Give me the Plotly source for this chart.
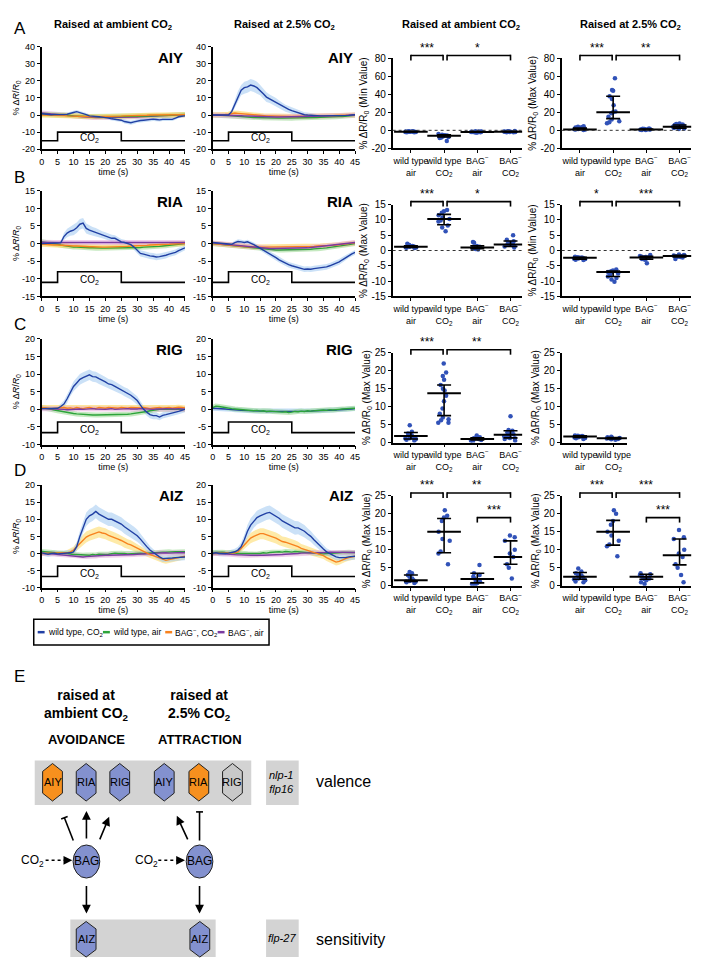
import numpy as np
import plotly.graph_objects as go

W, H = 705, 960
SANS = "Liberation Sans, Arial, sans-serif"
NARROW = "Liberation Sans Narrow, Arial Narrow, Liberation Sans, Arial, sans-serif"

T = list(range(46))
STIM_T = [0, 5, 5, 25, 25, 45]

# ---------------- calcium traces (mean, % dR/R0), 1 s steps ----------------
# A: AIY
aiy_amb_wt_co2 = [0.8, 0.5, 0.3, 0.2, 0.3, 0.2, 0.5, 0.3, 0.5, 1.2,
                  1.5, 2.0, 1.5, 1.2, 0.3, -0.5, -0.8, -1.0, -1.0, -1.2,
                  -1.3, -1.8, -2.2, -2.5, -2.7, -3.0, -3.8, -4.3, -4.5, -4.0,
                  -3.4, -3.2, -3.0, -2.8, -2.5, -2.4, -2.6, -2.8, -2.5, -2.6,
                  -2.7, -2.5, -1.8, -1.0, -0.7, -0.5]
aiy_amb_wt_co2_sem = [0.6, 0.6, 0.6, 0.6, 0.6, 0.6, 0.7, 0.7, 0.8, 0.9,
                      1.0, 1.0, 1.0, 0.9, 0.9, 0.9, 0.9, 0.9, 0.9, 0.9,
                      1.0, 1.0, 1.0, 1.0, 1.1, 1.1, 1.2, 1.2, 1.2, 1.2,
                      1.1, 1.1, 1.0, 1.0, 1.0, 1.0, 1.0, 1.0, 1.0, 1.0,
                      0.9, 0.9, 0.9, 0.8, 0.8, 0.8]
aiy_amb_wt_air = [0.5, 0.3, 0.2, 0.0, 0.0, 0.0, 0.0, 0.0, -0.2, -0.3,
                  -0.5, -0.5, -0.6, -0.7, -0.8, -0.8, -0.8, -0.9, -1.0, -1.0,
                  -1.0, -1.0, -1.0, -1.0, -1.0, -1.0, -1.0, -1.0, -0.9, -0.9,
                  -0.8, -0.8, -0.7, -0.6, -0.5, -0.5, -0.4, -0.3, -0.3, -0.2,
                  -0.2, 0.0, 0.1, 0.2, 0.3, 0.3]
aiy_amb_bag_co2 = [0.0, 0.0, 0.0, 0.0, -0.2, -0.3, -0.3, -0.3, -0.5, -0.5,
                   -0.5, -0.5, -0.6, -0.7, -0.8, -1.0, -1.0, -1.0, -1.0, -1.0,
                   -0.9, -0.9, -0.8, -0.8, -0.7, -0.6, -0.5, -0.5, -0.4, -0.3,
                   -0.3, -0.2, -0.2, -0.1, 0.0, 0.0, 0.0, 0.0, 0.0, 0.0,
                   0.0, 0.0, 0.0, 0.1, 0.1, 0.2]
aiy_amb_bag_air = [1.2, 1.0, 0.8, 0.5, 0.3, 0.2, 0.0, -0.2, -0.3, -0.5,
                   -0.6, -0.8, -0.9, -1.0, -1.2, -1.3, -1.4, -1.5, -1.5, -1.5,
                   -1.5, -1.5, -1.5, -1.5, -1.4, -1.4, -1.3, -1.3, -1.2, -1.2,
                   -1.1, -1.0, -1.0, -0.9, -0.8, -0.7, -0.6, -0.5, -0.4, -0.3,
                   -0.2, -0.1, 0.0, 0.0, 0.1, 0.2]

aiy_high_wt_co2 = [0.0, 0.0, 0.0, 0.0, 0.0, 0.0, 2.0, 6.5, 11.0, 14.5,
                   16.0, 16.5, 17.5, 17.0, 16.0, 14.5, 12.5, 10.5, 9.5, 8.5,
                   7.5, 6.2, 5.0, 4.0, 3.3, 2.6, 2.0, 1.2, 0.6, 0.2,
                   0.0, -0.2, -0.3, -0.4, -0.5, -0.5, -0.5, -0.6, -0.6, -0.5,
                   -0.5, -0.4, -0.3, -0.2, 0.0, 0.2]
aiy_high_wt_co2_sem = [0.5, 0.5, 0.5, 0.5, 0.5, 0.5, 1.5, 2.5, 3.0, 3.0,
                       3.5, 3.5, 3.5, 3.5, 3.5, 3.0, 3.0, 2.8, 2.5, 2.5,
                       2.5, 2.3, 2.2, 2.0, 2.0, 2.0, 1.8, 1.8, 1.5, 1.5,
                       1.5, 1.3, 1.2, 1.0, 1.0, 1.0, 1.0, 1.0, 1.0, 0.8,
                       0.8, 0.8, 0.8, 0.8, 0.8, 0.8]
aiy_high_wt_air = [0.0, 0.0, 0.0, 0.0, -0.2, -0.3, -0.5, -0.7, -0.8, -1.0,
                   -1.0, -1.2, -1.3, -1.4, -1.5, -1.5, -1.6, -1.7, -1.8, -1.8,
                   -1.8, -1.8, -1.8, -1.8, -1.8, -1.8, -1.7, -1.7, -1.6, -1.6,
                   -1.5, -1.5, -1.5, -1.4, -1.3, -1.3, -1.2, -1.2, -1.0, -1.0,
                   -0.9, -0.8, -0.6, -0.5, -0.3, -0.1]
aiy_high_bag_co2 = [0.0, 0.0, 0.0, 0.2, 0.3, 0.5, 1.0, 1.2, 1.0, 0.8,
                    0.5, 0.3, 0.2, 0.0, -0.2, -0.3, -0.4, -0.5, -0.5, -0.6,
                    -0.7, -0.7, -0.8, -0.8, -0.8, -0.8, -0.8, -0.8, -0.8, -0.7,
                    -0.7, -0.6, -0.6, -0.5, -0.5, -0.5, -0.5, -0.4, -0.4, -0.3,
                    -0.3, -0.2, -0.2, 0.0, 0.0, 0.0]
aiy_high_bag_air = [0.0, 0.0, 0.0, 0.0, 0.0, 0.0, -0.1, -0.2, -0.3, -0.4,
                    -0.5, -0.6, -0.7, -0.8, -0.9, -1.0, -1.0, -1.0, -1.1, -1.1,
                    -1.1, -1.1, -1.1, -1.1, -1.0, -1.0, -1.0, -1.0, -0.9, -0.9,
                    -0.8, -0.8, -0.7, -0.6, -0.6, -0.5, -0.5, -0.4, -0.4, -0.3,
                    -0.3, -0.2, -0.2, -0.1, 0.0, 0.1]

# B: RIA
ria_amb_wt_co2 = [0.0, 0.0, 0.0, 0.0, 0.0, 0.0, 0.2, 2.0, 3.0, 3.5,
                  3.8, 4.5, 5.5, 5.8, 4.3, 3.8, 3.5, 3.2, 2.8, 2.5,
                  2.2, 1.8, 1.5, 1.5, 1.0, 0.5, 0.3, 0.0, -0.3, -1.0,
                  -2.0, -2.8, -3.0, -3.3, -3.5, -3.6, -3.8, -3.7, -3.6, -3.3,
                  -3.0, -2.8, -2.5, -2.0, -1.7, -1.2]
ria_amb_wt_co2_sem = [0.3, 0.3, 0.3, 0.3, 0.3, 0.3, 0.5, 1.0, 1.2, 1.3,
                      1.4, 1.5, 1.5, 1.5, 1.4, 1.3, 1.2, 1.2, 1.1, 1.0,
                      1.0, 1.0, 1.0, 0.9, 0.9, 0.8, 0.8, 0.8, 0.8, 0.8,
                      0.9, 0.9, 0.9, 0.9, 0.9, 0.9, 0.9, 0.9, 0.9, 0.9,
                      0.8, 0.8, 0.8, 0.8, 0.7, 0.7]
ria_amb_wt_air = [0.5, 0.4, 0.3, 0.2, 0.0, -0.2, -0.4, -0.6, -0.8, -0.9,
                  -1.0, -1.0, -1.1, -1.1, -1.2, -1.2, -1.2, -1.3, -1.3, -1.3,
                  -1.3, -1.3, -1.3, -1.3, -1.3, -1.3, -1.3, -1.2, -1.2, -1.2,
                  -1.1, -1.1, -1.0, -1.0, -0.9, -0.9, -0.8, -0.8, -0.7, -0.6,
                  -0.5, -0.4, -0.3, -0.2, -0.1, 0.0]
ria_amb_bag_co2 = [-0.2, -0.3, -0.3, -0.3, -0.4, -0.4, -0.5, -0.5, -0.6, -0.6,
                   -0.7, -0.7, -0.8, -0.8, -0.8, -0.9, -0.9, -1.0, -1.0, -1.0,
                   -1.0, -1.0, -0.9, -0.9, -0.9, -0.8, -0.8, -0.8, -0.7, -0.7,
                   -0.6, -0.6, -0.5, -0.5, -0.4, -0.4, -0.3, -0.3, -0.3, -0.2,
                   -0.2, -0.1, -0.1, 0.0, 0.0, 0.0]
ria_amb_bag_air = [0.4, 0.3, 0.3, 0.3, 0.3, 0.3, 0.3, 0.3, 0.3, 0.3,
                   0.3, 0.3, 0.3, 0.3, 0.3, 0.3, 0.3, 0.3, 0.3, 0.3,
                   0.3, 0.3, 0.3, 0.3, 0.3, 0.3, 0.3, 0.3, 0.3, 0.3,
                   0.3, 0.3, 0.3, 0.3, 0.3, 0.3, 0.3, 0.3, 0.3, 0.3,
                   0.3, 0.3, 0.3, 0.3, 0.3, 0.3]

ria_high_wt_co2 = [0.3, 0.2, 0.0, 0.0, -0.2, -0.3, -0.2, 0.3, 0.6, 0.5,
                   0.3, 0.5, 0.2, -0.3, -0.8, -1.3, -1.8, -2.4, -3.0, -3.5,
                   -4.0, -4.6, -5.1, -5.6, -6.0, -6.3, -6.6, -6.9, -7.1, -7.3,
                   -7.2, -7.3, -7.1, -7.0, -6.9, -6.8, -6.6, -6.3, -6.0, -5.6,
                   -5.2, -4.6, -4.0, -3.4, -2.9, -2.5]
ria_high_wt_co2_sem = [0.4, 0.4, 0.4, 0.4, 0.4, 0.4, 0.5, 0.5, 0.6, 0.6,
                       0.6, 0.6, 0.6, 0.6, 0.6, 0.7, 0.7, 0.7, 0.7, 0.8,
                       0.8, 0.8, 0.8, 0.8, 0.8, 0.8, 0.8, 0.8, 0.8, 0.8,
                       0.8, 0.8, 0.8, 0.8, 0.8, 0.8, 0.8, 0.8, 0.8, 0.8,
                       0.8, 0.8, 0.7, 0.7, 0.7, 0.7]
ria_high_wt_air = [0.0, -0.1, -0.2, -0.3, -0.4, -0.5, -0.6, -0.7, -0.8, -0.9,
                   -1.0, -1.1, -1.2, -1.3, -1.4, -1.5, -1.5, -1.6, -1.7, -1.7,
                   -1.8, -1.8, -1.8, -1.8, -1.8, -1.8, -1.8, -1.8, -1.7, -1.7,
                   -1.6, -1.6, -1.5, -1.5, -1.4, -1.3, -1.2, -1.1, -1.0, -0.9,
                   -0.8, -0.6, -0.4, -0.3, -0.1, 0.0]
ria_high_bag_co2 = [0.0, -0.1, -0.2, -0.3, -0.4, -0.5, -0.5, -0.6, -0.7, -0.8,
                    -0.8, -0.9, -0.9, -1.0, -1.0, -1.0, -1.0, -1.0, -1.0, -1.0,
                    -1.0, -1.0, -1.0, -1.0, -1.0, -1.0, -1.0, -0.9, -0.9, -0.9,
                    -0.8, -0.8, -0.8, -0.7, -0.7, -0.6, -0.6, -0.5, -0.5, -0.4,
                    -0.3, -0.2, -0.1, 0.0, 0.1, 0.2]
ria_high_bag_air = [0.2, 0.1, 0.0, -0.1, -0.2, -0.3, -0.4, -0.5, -0.6, -0.7,
                    -0.8, -0.9, -1.0, -1.1, -1.2, -1.2, -1.3, -1.3, -1.4, -1.4,
                    -1.4, -1.4, -1.4, -1.4, -1.4, -1.4, -1.3, -1.3, -1.3, -1.2,
                    -1.2, -1.1, -1.0, -1.0, -0.9, -0.8, -0.7, -0.6, -0.5, -0.4,
                    -0.3, -0.2, -0.1, 0.0, 0.2, 0.3]

# C: RIG
rig_amb_wt_co2 = [0.2, 0.2, 0.3, 0.2, 0.2, 0.3, 0.8, 1.5, 3.0, 5.0,
                  6.5, 7.5, 8.5, 9.0, 9.5, 9.8, 9.3, 9.2, 8.7, 8.3,
                  7.8, 7.2, 7.0, 6.5, 6.0, 5.6, 5.0, 4.6, 4.0, 3.3,
                  2.5, 1.2, 0.0, -0.8, -1.5, -1.8, -1.8, -2.2, -1.7, -1.5,
                  -1.3, -1.2, -1.0, -0.6, -0.3, 0.0]
rig_amb_wt_co2_sem = [0.5, 0.5, 0.5, 0.5, 0.5, 0.5, 0.8, 1.0, 1.2, 1.3,
                      1.4, 1.5, 1.5, 1.5, 1.5, 1.5, 1.5, 1.5, 1.5, 1.5,
                      1.4, 1.4, 1.4, 1.4, 1.3, 1.3, 1.3, 1.3, 1.2, 1.2,
                      1.2, 1.1, 1.0, 1.0, 1.0, 1.0, 1.0, 0.9, 0.9, 0.9,
                      0.8, 0.8, 0.8, 0.8, 0.8, 0.8]
rig_amb_wt_air = [0.5, 0.4, 0.2, 0.0, -0.2, -0.4, -0.6, -0.8, -1.0, -1.1,
                  -1.2, -1.3, -1.4, -1.5, -1.5, -1.6, -1.6, -1.6, -1.6, -1.6,
                  -1.6, -1.6, -1.6, -1.6, -1.5, -1.5, -1.5, -1.4, -1.3, -1.2,
                  -1.1, -1.0, -0.8, -0.6, -0.4, -0.2, 0.0, 0.0, 0.1, 0.0,
                  0.0, 0.1, 0.0, 0.1, 0.0, 0.0]
rig_amb_bag_co2 = [0.5, 0.5, 0.3, 0.2, 0.3, 0.2, 0.3, 0.5, 0.3, 0.4,
                   0.2, 0.5, 0.3, 0.2, 0.4, 0.5, 0.3, 0.2, 0.5, 0.4,
                   0.3, 0.5, 0.4, 0.2, 0.3, 0.5, 0.4, 0.3, 0.5, 0.4,
                   0.3, 0.4, 0.5, 0.3, 0.2, 0.3, 0.4, 0.5, 0.3, 0.4,
                   0.5, 0.3, 0.5, 0.6, 0.5, 0.4]
rig_amb_bag_air = [0.2, 0.2, 0.1, 0.0, 0.1, 0.0, 0.1, 0.0, -0.1, 0.0,
                   0.1, 0.2, 0.1, 0.0, 0.1, 0.0, 0.2, 0.1, 0.0, 0.1,
                   0.0, 0.1, 0.2, 0.0, 0.1, 0.0, 0.1, 0.2, 0.1, 0.0,
                   0.1, 0.2, 0.1, 0.0, -0.1, 0.0, 0.1, 0.0, 0.1, 0.2,
                   0.1, 0.0, 0.1, 0.2, 0.1, 0.0]

rig_high_wt_co2 = [0.3, 0.3, 0.2, 0.2, 0.1, 0.0, 0.0, -0.1, -0.2, -0.3,
                   -0.3, -0.4, -0.4, -0.5, -0.5, -0.5, -0.5, -0.6, -0.6, -0.6,
                   -0.6, -0.6, -0.6, -0.7, -0.7, -0.7, -0.6, -0.6, -0.6, -0.5,
                   -0.5, -0.5, -0.4, -0.4, -0.4, -0.3, -0.3, -0.3, -0.2, -0.2,
                   -0.1, -0.1, 0.0, 0.1, 0.1, 0.2]
rig_high_wt_air = [0.5, 0.9, 0.8, 0.6, 0.5, 0.4, 0.2, 0.1, 0.0, -0.1,
                   -0.1, -0.2, -0.3, -0.4, -0.3, -0.5, -0.4, -0.6, -0.5, -0.6,
                   -0.7, -0.6, -0.8, -0.7, -0.9, -0.8, -0.6, -0.7, -0.5, -0.6,
                   -0.4, -0.5, -0.4, -0.3, -0.4, -0.2, -0.3, -0.1, -0.2, 0.0,
                   0.0, 0.1, 0.1, 0.2, 0.2, 0.3]

# D: AIZ
aiz_amb_wt_co2 = [0.2, 0.0, -0.2, 0.0, 0.1, -0.1, 0.0, 0.1, 0.0, 0.2,
                  0.5, 2.0, 5.0, 7.8, 10.0, 11.0, 11.5, 12.3, 11.5, 11.0,
                  10.5, 10.0, 10.0, 9.5, 9.0, 8.6, 7.8, 7.2, 6.6, 6.0,
                  5.2, 4.2, 3.0, 2.0, 1.0, 0.3, -0.5, -1.0, -1.5, -1.5,
                  -1.5, -1.3, -1.2, -1.1, -1.0, -1.0]
aiz_amb_wt_co2_sem = [0.8, 0.8, 0.8, 0.8, 0.8, 0.8, 0.8, 0.8, 0.8, 0.8,
                      1.0, 1.3, 1.6, 1.8, 2.0, 2.0, 2.0, 2.0, 2.0, 2.0,
                      2.0, 2.0, 2.0, 2.0, 2.0, 2.0, 2.0, 2.0, 1.8, 1.8,
                      1.8, 1.6, 1.5, 1.3, 1.2, 1.0, 1.0, 1.0, 1.0, 1.0,
                      1.0, 1.0, 1.0, 1.0, 1.0, 1.0]
aiz_amb_wt_air = [0.6, 0.5, 0.3, 0.2, 0.1, 0.0, 0.0, 0.0, 0.0, -0.2,
                  -0.3, -0.3, -0.4, -0.5, -0.4, -0.5, -0.3, -0.4, -0.2, -0.3,
                  -0.3, -0.2, 0.0, 0.1, 0.0, 0.1, 0.0, -0.1, 0.0, 0.1,
                  0.2, 0.1, 0.0, 0.1, 0.2, 0.2, 0.3, 0.3, 0.4, 0.4,
                  0.5, 0.4, 0.5, 0.5, 0.6, 0.5]
aiz_amb_bag_co2 = [0.0, 0.0, 0.0, 0.0, 0.0, 0.0, 0.0, 0.0, 0.2, 0.5,
                   1.0, 2.0, 3.0, 4.0, 4.8, 5.3, 5.6, 6.0, 6.3, 6.0,
                   5.8, 5.3, 5.0, 4.6, 4.2, 3.8, 3.2, 2.8, 2.5, 2.0,
                   1.5, 1.0, 0.5, 0.0, -0.3, -0.6, -1.0, -1.4, -1.8, -2.0,
                   -1.8, -1.6, -1.5, -1.3, -1.0, -0.8]
aiz_amb_bag_co2_sem = [0.7, 0.7, 0.7, 0.7, 0.7, 0.7, 0.7, 0.7, 0.8, 0.9,
                       1.0, 1.2, 1.4, 1.5, 1.6, 1.6, 1.6, 1.6, 1.6, 1.6,
                       1.6, 1.6, 1.6, 1.5, 1.5, 1.5, 1.5, 1.4, 1.4, 1.3,
                       1.3, 1.2, 1.1, 1.0, 1.0, 1.0, 1.0, 1.0, 1.0, 1.0,
                       1.0, 1.0, 0.9, 0.9, 0.9, 0.9]
aiz_amb_bag_air = [0.0, 0.1, 0.0, -0.1, -0.2, -0.2, -0.3, -0.4, -0.5, -0.6,
                   -0.7, -0.8, -0.9, -1.0, -0.9, -0.8, -0.9, -0.7, -0.6, -0.6,
                   -0.5, -0.5, -0.5, -0.4, -0.5, -0.4, -0.3, -0.3, -0.4, -0.3,
                   -0.2, -0.2, -0.1, 0.0, 0.0, 0.0, 0.1, 0.2, 0.1, 0.2,
                   0.1, 0.2, 0.1, 0.2, 0.3, 0.2]

aiz_high_wt_co2 = [0.0, 0.2, 0.0, -0.1, 0.0, 0.1, 0.3, 0.5, 1.0, 2.0,
                   4.0, 6.5, 8.3, 9.5, 10.5, 11.0, 11.5, 11.8, 12.0, 11.5,
                   11.0, 10.3, 9.5, 9.0, 8.5, 8.0, 7.5, 7.5, 7.0, 6.5,
                   5.7, 5.0, 4.0, 3.0, 2.0, 1.3, 0.5, 0.0, -0.5, -1.0,
                   -1.2, -1.3, -1.2, -1.0, -0.9, -0.8]
aiz_high_wt_co2_sem = [0.8, 0.8, 0.8, 0.8, 0.8, 0.8, 0.8, 0.9, 1.0, 1.2,
                       1.5, 1.8, 2.0, 2.0, 2.0, 2.0, 2.0, 2.0, 2.0, 2.0,
                       2.0, 2.0, 2.0, 2.0, 2.0, 2.0, 2.0, 1.9, 1.8, 1.8,
                       1.7, 1.6, 1.5, 1.4, 1.3, 1.2, 1.0, 1.0, 1.0, 1.0,
                       1.0, 1.0, 1.0, 1.0, 1.0, 1.0]
aiz_high_wt_air = [0.3, 0.4, 0.5, 0.4, 0.3, 0.3, 0.2, 0.1, 0.0, 0.0,
                   0.0, -0.1, -0.2, -0.1, -0.2, 0.0, 0.2, 0.1, 0.3, 0.4,
                   0.3, 0.5, 0.4, 0.6, 0.5, 0.4, 0.6, 0.5, 0.4, 0.5,
                   0.3, 0.2, 0.1, 0.0, 0.0, -0.1, 0.0, 0.0, 0.1, 0.2,
                   0.2, 0.3, 0.3, 0.4, 0.3, 0.3]
aiz_high_bag_co2 = [0.0, 0.0, 0.0, 0.0, 0.0, 0.0, 0.0, 0.2, 0.5, 1.5,
                    2.5, 3.5, 4.5, 5.0, 5.5, 5.8, 5.8, 5.5, 5.3, 5.0,
                    4.5, 4.0, 3.5, 3.3, 3.0, 2.8, 2.5, 2.0, 1.5, 1.2,
                    0.9, 0.6, 0.3, 0.0, -0.3, -0.6, -1.2, -1.7, -2.2, -2.5,
                    -2.3, -1.8, -1.5, -1.2, -1.0, -0.8]
aiz_high_bag_co2_sem = [0.7, 0.7, 0.7, 0.7, 0.7, 0.7, 0.7, 0.7, 0.8, 1.0,
                        1.2, 1.4, 1.5, 1.6, 1.6, 1.6, 1.6, 1.6, 1.6, 1.6,
                        1.6, 1.6, 1.5, 1.5, 1.5, 1.5, 1.4, 1.4, 1.3, 1.3,
                        1.2, 1.2, 1.1, 1.0, 1.0, 1.0, 1.0, 1.0, 1.0, 1.0,
                        1.0, 1.0, 0.9, 0.9, 0.9, 0.9]
aiz_high_bag_air = [0.0, 0.1, 0.0, -0.1, -0.2, -0.2, -0.3, -0.3, -0.4, -0.4,
                    -0.5, -0.5, -0.5, -0.5, -0.6, -0.5, -0.5, -0.5, -0.4, -0.4,
                    -0.4, -0.3, -0.3, -0.2, -0.2, -0.1, 0.0, 0.0, 0.1, 0.1,
                    0.1, 0.2, 0.2, 0.2, 0.3, 0.3, 0.3, 0.4, 0.4, 0.4,
                    0.5, 0.4, 0.5, 0.4, 0.3, 0.3]

# CO2 stimulus bars (drawn in each row's data units)
STIM_A = [-15, -15, -10, -10, -15, -15]
STIM_B = [-11, -11, -8, -8, -11, -11]
STIM_C = [-6.6, -6.6, -3.6, -3.6, -6.6, -6.6]
STIM_D = [-6.7, -6.7, -3.7, -3.7, -6.7, -6.7]

SERIES = ["wild type, CO<sub>2</sub>", "wild type, air",
          "BAG<sup>−</sup>, CO<sub>2</sub>", "BAG<sup>−</sup>, air"]
NEURONS = ["AIY", "RIA", "RIG", "AIZ"]
COL_TITLES = ["Raised at ambient CO<sub>2</sub>", "Raised at 2.5% CO<sub>2</sub>",
              "Raised at ambient CO<sub>2</sub>", "Raised at 2.5% CO<sub>2</sub>"]

# ---------------- per-animal peak values ----------------
CATS = ["wild type<br>air", "wild type<br>CO<sub>2</sub>",
        "BAG<sup>−</sup><br>air", "BAG<sup>−</sup><br>CO<sub>2</sub>"]

a_amb = [[-1.0, -1.2, -1.5, -1.3, -1.8, -2.0, -1.6, -1.1, -1.4, -1.9, -1.7, -2.2],
         [-4.0, -5.0, -5.5, -6.0, -6.2, -6.5, -7.0, -7.5, -8.0, -8.5, -12.0, -5.8],
         [-1.0, -1.5, -1.8, -2.0, -2.3, -2.5, -1.2, -1.7, -2.1, -1.4, -1.9],
         [-0.8, -1.2, -1.5, -1.8, -2.0, -1.3, -1.6, -1.0, -1.9, -1.4, -2.2]]
a_amb_med = [-1.5, -6.0, -1.8, -1.5]
a_amb_q1 = [-1.9, -7.5, -2.2, -1.9]
a_amb_q3 = [-1.2, -5.0, -1.4, -1.1]

a_high = [[0.5, 1.0, 1.5, 2.0, 2.5, 3.0, 3.5, 4.0, 4.5, 1.2, 2.2, 0.8, 3.2],
          [58.0, 45.0, 44.0, 38.0, 35.0, 28.0, 21.0, 20.0, 19.0, 15.0, 12.0, 10.0, 8.0, 9.0],
          [0.3, 0.5, 0.8, 1.0, 1.2, 1.5, 1.8, 2.0, 0.6, 1.1],
          [1.5, 2.0, 2.5, 3.0, 3.5, 4.0, 4.5, 5.0, 5.5, 6.0, 6.5, 7.0, 7.5, 2.8]]
a_high_med = [1.0, 20.0, 1.0, 4.0]
a_high_q1 = [0.7, 13.0, 0.6, 2.5]
a_high_q3 = [2.5, 38.0, 1.5, 6.0]

b_amb = [[0.8, 1.0, 1.2, 1.3, 1.5, 1.8, 2.2, 1.1, 0.9, 1.4],
         [13.2, 12.8, 12.3, 11.5, 10.8, 10.3, 9.8, 9.5, 8.2, 7.5, 6.3],
         [0.3, 0.5, 0.8, 1.0, 1.2, 1.5, 2.8, 2.5, 0.7],
         [1.0, 1.3, 1.5, 2.0, 2.2, 2.5, 3.0, 3.5, 5.0, 1.8, 2.1]]
b_amb_med = [1.2, 10.3, 1.0, 2.0]
b_amb_q1 = [1.0, 8.4, 0.6, 1.3]
b_amb_q3 = [1.5, 11.8, 1.5, 3.1]

b_high = [[-2.0, -2.2, -2.4, -2.5, -2.6, -2.8, -3.0, -3.1, -2.3, -2.7],
          [-6.2, -6.5, -6.8, -7.0, -7.2, -7.5, -8.0, -8.5, -9.0, -9.5, -10.2],
          [-1.5, -1.8, -2.0, -2.2, -2.4, -2.6, -2.8, -3.0, -4.2, -2.1],
          [-1.3, -1.5, -1.6, -1.7, -1.8, -1.9, -2.0, -2.1, -2.3, -2.8, -1.6]]
b_high_med = [-2.4, -7.0, -2.3, -1.8]
b_high_q1 = [-2.8, -8.5, -2.8, -2.1]
b_high_q3 = [-2.2, -6.7, -1.9, -1.6]

c_amb = [[0.5, 0.8, 1.0, 1.2, 1.5, 1.8, 2.0, 2.5, 3.0, 1.4, 1.1, 4.8],
         [22.0, 19.5, 18.5, 17.5, 16.0, 15.0, 14.5, 13.0, 11.5, 9.5, 8.0, 6.5, 6.2, 5.5, 5.5, 7.0],
         [0.3, 0.5, 0.8, 1.0, 1.2, 1.5, 2.0, 0.9, 1.1, 0.7],
         [0.5, 1.0, 1.3, 1.5, 1.8, 2.0, 2.3, 2.8, 3.3, 3.5, 7.3, 1.2, 2.5]]
c_amb_med = [1.8, 13.7, 1.0, 2.2]
c_amb_q1 = [1.0, 7.5, 0.7, 1.3]
c_amb_q3 = [2.8, 16.0, 1.3, 3.3]

c_high = [[1.0, 1.2, 1.5, 1.7, 1.8, 2.0, 1.6, 1.4, 1.9, 1.3],
          [0.8, 1.0, 1.1, 1.2, 1.3, 1.5, 1.6, 0.9, 1.4]]
c_high_med = [1.7, 1.2]
c_high_q1 = [1.4, 1.0]
c_high_q3 = [1.9, 1.4]

d_amb = [[0.8, 1.0, 1.2, 1.3, 1.5, 1.6, 2.0, 2.5, 3.0, 3.5, 3.8, 1.1],
         [21.0, 19.5, 19.0, 18.0, 15.0, 13.0, 12.5, 9.5, 9.0, 6.0],
         [0.3, 0.5, 0.8, 1.0, 1.5, 2.0, 2.5, 3.0, 3.5, 5.8, 1.2],
         [14.0, 13.5, 12.5, 10.0, 9.0, 8.0, 6.0, 5.0, 2.0]]
d_amb_med = [1.5, 15.0, 1.9, 8.0]
d_amb_q1 = [1.2, 9.2, 0.8, 6.0]
d_amb_q3 = [3.0, 18.7, 3.5, 12.5]

d_high = [[1.0, 1.5, 1.8, 2.0, 2.3, 2.5, 2.8, 3.0, 3.5, 4.0, 4.8, 1.2],
          [21.0, 20.0, 18.0, 17.0, 15.0, 14.0, 12.5, 11.5, 11.0, 8.2],
          [0.5, 1.0, 1.5, 2.0, 2.5, 3.0, 3.2, 3.5, 2.2, 1.8],
          [15.5, 13.5, 13.0, 10.0, 9.0, 8.0, 6.0, 5.0, 3.0, 1.0]]
d_high_med = [2.5, 15.0, 2.5, 8.5]
d_high_q1 = [1.8, 11.3, 1.8, 5.8]
d_high_q3 = [3.7, 18.2, 3.2, 13.0]

# significance brackets: (group a, group b, label, level)
SIG_A = [[(0, 1, "***", 0), (1, 3, "*", 0)], [(0, 1, "***", 0), (1, 3, "**", 0)]]
SIG_B = [[(0, 1, "***", 0), (1, 3, "*", 0)], [(0, 1, "*", 0), (1, 3, "***", 0)]]
SIG_C = [[(0, 1, "***", 0), (1, 3, "**", 0)], []]
SIG_D = [[(0, 1, "***", 0), (1, 3, "**", 0), (2, 3, "***", 1)],
         [(0, 1, "***", 0), (1, 3, "***", 0), (2, 3, "***", 1)]]

# model diagram (panel E)
VALENCE_NODES = ["AIY", "RIA", "RIG", "AIY", "RIA", "RIG"]
VALENCE_FILL = ["#f7901e", "#8391cf", "#8391cf", "#8391cf", "#f7901e", "#c8c8c8"]
SENS_NODES = ["AIZ", "AIZ"]

# ---------------- styling ----------------
LINE_COL = ["#2140a4", "#2ca33a", "#f7821e", "#7a3aa0"]
HALO_COL = ["rgba(150,195,240,0.55)", "rgba(150,215,140,0.55)",
            "rgba(253,215,100,0.65)", "rgba(230,165,220,0.55)"]
BAND_COL = ["rgba(160,200,240,0.55)", None, "rgba(253,220,110,0.6)", None]
DOT = "#3152b8"

TR_COLS = [(31, 176), (204, 348)]
TR_ROWS = [(33, 137), (179, 286), (329, 436), (477, 581)]
SC_COLS = [(386, 517), (557, 688)]
SC_ROWS = [(45, 136), (193, 286), (343, 434), (488, 579)]
SC_RANGE = [-0.55, 3.35]

trace_rows = [
    dict(y=[-20, 40], dt=10, stim=STIM_A, lab=-13.6, panels=[
        [(3, aiy_amb_bag_air, None), (1, aiy_amb_wt_air, None), (2, aiy_amb_bag_co2, None),
         (0, aiy_amb_wt_co2, aiy_amb_wt_co2_sem)],
        [(1, aiy_high_wt_air, None), (2, aiy_high_bag_co2, None), (3, aiy_high_bag_air, None),
         (0, aiy_high_wt_co2, aiy_high_wt_co2_sem)]]),
    dict(y=[-15, 15], dt=5, stim=STIM_B, lab=-10.3, panels=[
        [(1, ria_amb_wt_air, None), (2, ria_amb_bag_co2, None), (3, ria_amb_bag_air, None),
         (0, ria_amb_wt_co2, ria_amb_wt_co2_sem)],
        [(1, ria_high_wt_air, None), (2, ria_high_bag_co2, None), (3, ria_high_bag_air, None),
         (0, ria_high_wt_co2, ria_high_wt_co2_sem)]]),
    dict(y=[-10, 20], dt=5, stim=STIM_C, lab=-6.0, panels=[
        [(1, rig_amb_wt_air, None), (2, rig_amb_bag_co2, None), (3, rig_amb_bag_air, None),
         (0, rig_amb_wt_co2, rig_amb_wt_co2_sem)],
        [(0, rig_high_wt_co2, None), (1, rig_high_wt_air, None)]]),
    dict(y=[-10, 20], dt=5, stim=STIM_D, lab=-6.1, panels=[
        [(1, aiz_amb_wt_air, None), (3, aiz_amb_bag_air, None),
         (2, aiz_amb_bag_co2, aiz_amb_bag_co2_sem), (0, aiz_amb_wt_co2, aiz_amb_wt_co2_sem)],
        [(1, aiz_high_wt_air, None), (3, aiz_high_bag_air, None),
         (2, aiz_high_bag_co2, aiz_high_bag_co2_sem), (0, aiz_high_wt_co2, aiz_high_wt_co2_sem)]]),
]

scatter_rows = [
    dict(y=[-20, 80], dt=20, zero=True, sig=SIG_A, yt=["Min", "Max"],
         data=[(a_amb, a_amb_med, a_amb_q1, a_amb_q3), (a_high, a_high_med, a_high_q1, a_high_q3)]),
    dict(y=[-15, 15], dt=5, zero=True, sig=SIG_B, yt=["Max", "Min"],
         data=[(b_amb, b_amb_med, b_amb_q1, b_amb_q3), (b_high, b_high_med, b_high_q1, b_high_q3)]),
    dict(y=[0, 25], dt=5, zero=False, sig=SIG_C, yt=["Max", "Max"],
         data=[(c_amb, c_amb_med, c_amb_q1, c_amb_q3), (c_high, c_high_med, c_high_q1, c_high_q3)]),
    dict(y=[0, 25], dt=5, zero=False, sig=SIG_D, yt=["Max", "Max"],
         data=[(d_amb, d_amb_med, d_amb_q1, d_amb_q3), (d_high, d_high_med, d_high_q1, d_high_q3)]),
]

shapes, annots = [], []


def P(px, py):
    return px / W, 1 - py / H


def seg(x0, y0, x1, y1, color="black", width=1.5, dash=None):
    a, b = P(x0, y0)
    c, d = P(x1, y1)
    ln = dict(color=color, width=width)
    if dash:
        ln["dash"] = dash
    shapes.append(dict(type="line", xref="paper", yref="paper", x0=a, y0=b, x1=c, y1=d, line=ln))


def text(px, py, s, size=10, family=SANS, xanchor="center", yanchor="middle"):
    x, y = P(px, py)
    annots.append(dict(xref="paper", yref="paper", x=x, y=y, text=s, showarrow=False,
                       xanchor=xanchor, yanchor=yanchor,
                       font=dict(size=size, family=family, color="black")))


def names(k):
    s = "" if k == 1 else str(k)
    return "x" + s, "y" + s, "xaxis" + s, "yaxis" + s


def axis(**kw):
    d = dict(showline=True, linecolor="black", linewidth=1.5, ticks="outside", ticklen=3,
             tickwidth=1.2, tickcolor="black", showgrid=False, zeroline=False,
             tickfont=dict(size=9, color="black", family=SANS), fixedrange=True)
    d.update(kw)
    return d


fig = go.Figure()
lay = {}

# ---------------- time-course panels ----------------
for r, row in enumerate(trace_rows):
    top, bot = TR_ROWS[r]
    yv = list(range(row["y"][0], row["y"][1] + 1, row["dt"]))
    for c in range(2):
        k = r * 4 + c + 1
        xa, ya, xk, yk = names(k)
        l, rr = TR_COLS[c]
        lay[xk] = axis(domain=[l / W, rr / W], anchor=ya, range=[0, 45],
                       tickvals=list(range(0, 46, 5)),
                       title=dict(text="time (s)", font=dict(size=9, family=SANS), standoff=2))
        yd = axis(domain=[1 - bot / H, 1 - top / H], anchor=xa, range=row["y"],
                  tickvals=yv, ticktext=[str(v) for v in yv])
        if c == 0:
            yd["title"] = dict(text="% Δ<i>R</i>/<i>R</i><sub>0</sub>",
                               font=dict(size=9, family=SANS), standoff=1)
        lay[yk] = yd
        series = row["panels"][c]
        # SEM bands
        for idx, mean, sem in series:
            if sem is None:
                continue
            m, s = np.array(mean), np.array(sem)
            fig.add_trace(go.Scatter(x=T, y=m + s, mode="lines", line=dict(width=0),
                                     hoverinfo="skip", showlegend=False, xaxis=xa, yaxis=ya))
            fig.add_trace(go.Scatter(x=T, y=m - s, mode="lines", line=dict(width=0),
                                     fill="tonexty", fillcolor=BAND_COL[idx],
                                     hoverinfo="skip", showlegend=False, xaxis=xa, yaxis=ya))
        for idx, mean, sem in series:
            if sem is None:
                fig.add_trace(go.Scatter(x=T, y=mean, mode="lines",
                                         line=dict(color=HALO_COL[idx], width=5),
                                         hoverinfo="skip", showlegend=False, xaxis=xa, yaxis=ya))
        for idx, mean, sem in series:
            fig.add_trace(go.Scatter(x=T, y=mean, mode="lines", name=SERIES[idx],
                                     line=dict(color=LINE_COL[idx], width=1.4),
                                     showlegend=False, xaxis=xa, yaxis=ya))
        fig.add_trace(go.Scatter(x=STIM_T, y=row["stim"], mode="lines",
                                 line=dict(color="black", width=1.6),
                                 showlegend=False, hoverinfo="skip", xaxis=xa, yaxis=ya))
        annots.append(dict(xref=xa, yref=ya, x=15, y=row["lab"], text="CO<sub>2</sub>",
                           showarrow=False, font=dict(size=10, family=SANS, color="black")))
        annots.append(dict(xref=xa + " domain", yref=ya + " domain", x=1, y=1.0,
                           xanchor="right", yanchor="top", showarrow=False,
                           text="<b>" + NEURONS[r] + "</b>",
                           font=dict(size=15, family=SANS, color="black")))

# ---------------- per-animal scatter panels ----------------
for r, row in enumerate(scatter_rows):
    top, bot = SC_ROWS[r]
    yv = list(range(row["y"][0], row["y"][1] + 1, row["dt"]))
    for c in range(2):
        k = r * 4 + 2 + c + 1
        xa, ya, xk, yk = names(k)
        groups, med, q1, q3 = row["data"][c]
        n = len(groups)
        cats = CATS[:n]
        l, rr = SC_COLS[c]
        rng = SC_RANGE
        if n == 2:
            rr = 623
            rng = [-0.55, 1.4]
        lay[xk] = axis(domain=[l / W, rr / W], anchor=ya, type="category",
                       categoryorder="array", categoryarray=cats, range=rng,
                       tickangle=0, ticklen=3,
                       tickfont=dict(size=9, color="black", family=SANS))
        lay[yk] = axis(domain=[1 - bot / H, 1 - top / H], anchor=xa, range=row["y"],
                       tickvals=yv, ticktext=[str(v) for v in yv],
                       tickfont=dict(size=10, color="black", family=SANS),
                       title=dict(text="% ΔR/R<sub>0</sub> (" + row["yt"][c] + " Value)",
                                  font=dict(size=10, family=SANS), standoff=2))
        if row["zero"]:
            shapes.append(dict(type="line", xref=xa + " domain", yref=ya, x0=0, x1=1, y0=0, y1=0,
                               line=dict(color="#333", width=1, dash="dot")))
        xs = sum([[cats[i]] * len(g) for i, g in enumerate(groups)], [])
        ys = sum(groups, [])
        fig.add_trace(go.Box(x=xs, y=ys, boxpoints="all", jitter=0.85, pointpos=0,
                             fillcolor="rgba(0,0,0,0)", line=dict(color="rgba(0,0,0,0)"),
                             whiskerwidth=0, marker=dict(color=DOT, size=4.5),
                             showlegend=False, xaxis=xa, yaxis=ya))
        m, a, b = np.array(med), np.array(q1), np.array(q3)
        fig.add_trace(go.Scatter(x=cats, y=med, mode="markers",
                                 marker=dict(symbol="line-ew", size=24, color="black",
                                             line=dict(width=2, color="black")),
                                 error_y=dict(type="data", symmetric=False, array=b - m,
                                              arrayminus=m - a, color="black",
                                              thickness=1.6, width=7),
                                 showlegend=False, xaxis=xa, yaxis=ya))

        def cx(i):
            return l + (i - rng[0]) / (rng[1] - rng[0]) * (rr - l)

        for g0, g1, lab, lev in row["sig"][c]:
            yb = top - 3 if lev == 0 else top + 22
            x0 = cx(g0) + (3 if g0 == 1 else 0)
            x1 = cx(g1) - (1 if g1 == 1 else 0)
            seg(x0, yb, x1, yb, width=1.6)
            seg(x0, yb - 0.8, x0, yb + 5, width=1.6)
            seg(x1, yb - 0.8, x1, yb + 5, width=1.6)
            text((cx(g0) + cx(g1)) / 2, yb - 8, lab, size=12)

# ---------------- headers, panel letters ----------------
for c, cxp in enumerate([103, 277, 455, 627]):
    text(cxp, 11, "<b>" + COL_TITLES[c] + "</b>", size=11)
for lab, py in [("A", 15), ("B", 166), ("C", 314), ("D", 462), ("E", 671)]:
    text(1, py, lab, size=17, xanchor="left")

# ---------------- legend box ----------------
shapes.append(dict(type="rect", xref="paper", yref="paper", x0=23 / W, x1=261 / W,
                   y0=1 - 639 / H, y1=1 - 613 / H, line=dict(color="black", width=1.5)))
for i, lx in enumerate([27, 93, 156, 209]):
    seg(lx, 626, lx + 7, 626, color=LINE_COL[i], width=2.5)
    text(lx + 8, 626, SERIES[i], size=8.5, family=NARROW, xanchor="left")

# ---------------- panel E: circuit model ----------------


def hexagon(cx, cy, fill, w=10, h=19):
    pts = [(cx, cy - h), (cx + w, cy - 0.58 * h), (cx + w, cy + 0.58 * h), (cx, cy + h),
           (cx - w, cy + 0.58 * h), (cx - w, cy - 0.58 * h)]
    path = "M " + " L ".join("%.5f,%.5f" % (px / W, 1 - py / H) for px, py in pts) + " Z"
    shapes.append(dict(type="path", xref="paper", yref="paper", path=path, fillcolor=fill,
                       line=dict(color="#222", width=1)))


def arrow(x0, y0, x1, y1):
    x, y = P(x1, y1)
    annots.append(dict(xref="paper", yref="paper", x=x, y=y, ax=x0 - x1, ay=y0 - y1,
                       axref="pixel", ayref="pixel", text="", showarrow=True, arrowhead=2,
                       arrowsize=1.1, arrowwidth=1.6, arrowcolor="black"))


def tbar(x0, y0, x1, y1, half=3.5):
    seg(x0, y0, x1, y1, width=1.6)
    dx, dy = x1 - x0, y1 - y0
    L = (dx * dx + dy * dy) ** 0.5
    nx, ny = -dy / L * half, dx / L * half
    seg(x1 + nx, y1 + ny, x1 - nx, y1 - ny, width=1.6)


text(76, 700, "<b>raised at<br>ambient CO<sub>2</sub></b>", size=14, family=NARROW)
text(191, 700, "<b>raised at<br>2.5% CO<sub>2</sub></b>", size=14, family=NARROW)
text(76, 735, "<b>AVOIDANCE</b>", size=13, family=NARROW)
text(191, 735, "<b>ATTRACTION</b>", size=13, family=NARROW)

for x0, x1, y0, y1 in [(24, 243, 756, 801), (258, 291, 756, 801),
                       (60, 207, 917, 955), (258, 291, 917, 955)]:
    shapes.append(dict(type="rect", xref="paper", yref="paper", x0=x0 / W, x1=x1 / W,
                       y0=1 - y1 / H, y1=1 - y0 / H, fillcolor="#d3d3d3", line=dict(width=0),
                       layer="below"))

for i, nx in enumerate([42, 76, 110, 155, 190, 224]):
    hexagon(nx, 778, VALENCE_FILL[i])
    text(nx, 778, VALENCE_NODES[i], size=11, family=NARROW)
for i, nx in enumerate([76, 191]):
    hexagon(nx, 937, "#8391cf", h=18)
    text(nx, 937, SENS_NODES[i], size=11, family=NARROW)

text(274, 778, "<i>nlp-1</i><br><i>flp16</i>", size=11, family=NARROW)
text(274, 936, "<i>flp-27</i>", size=11, family=NARROW)
text(306, 777, "valence", size=16, family=NARROW, xanchor="left")
text(306, 937, "sensitivity", size=16, family=NARROW, xanchor="left")

for bx, cotx, d0, d1 in [(76.3, 22, 35, 57), (190.7, 137, 149, 171)]:
    shapes.append(dict(type="circle", xref="paper", yref="paper",
                       x0=(bx - 13.5) / W, x1=(bx + 13.5) / W,
                       y0=1 - 875 / H, y1=1 - 841.5 / H,
                       fillcolor="#8391cf", line=dict(color="#222", width=1)))
    text(bx, 858, "BAG", size=12, family=NARROW)
    text(cotx, 858, "CO<sub>2</sub>", size=12, family=NARROW)
    seg(d0, 857, d1, 857, width=1.6, dash="3px,3px")
    arrow(d1 - 1, 857, d1 + 5, 857)
    arrow(bx, 882, bx, 911)

tbar(63, 837, 54, 814)
arrow(76.3, 836, 76.3, 807)
arrow(89.3, 837, 99.3, 813)
arrow(179.3, 837, 167.7, 812)
tbar(190.7, 837, 190.7, 808)

lay.update(dict(width=W, height=H, autosize=False, margin=dict(l=0, r=0, t=0, b=0),
                paper_bgcolor="white", plot_bgcolor="rgba(0,0,0,0)", showlegend=False,
                font=dict(family=SANS, color="black"), shapes=shapes, annotations=annots))
fig.update_layout(**lay)
fig.write_html("out.html")
